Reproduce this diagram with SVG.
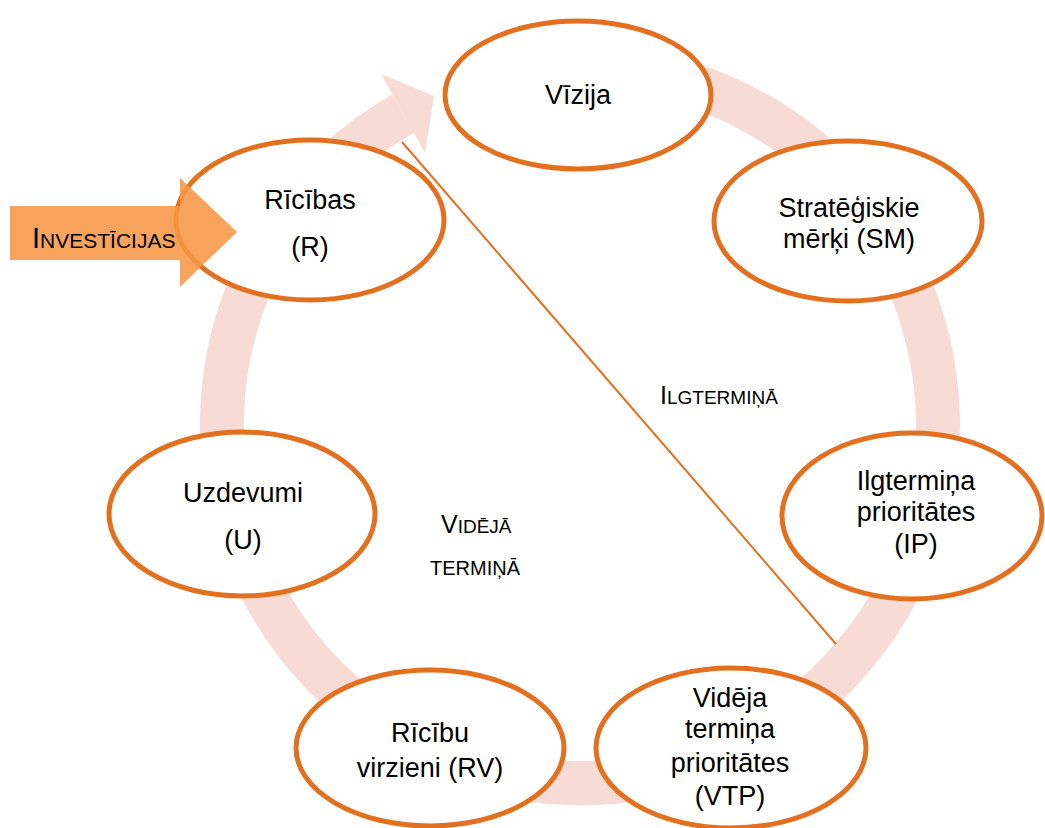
<svg xmlns="http://www.w3.org/2000/svg" width="1045" height="828" viewBox="0 0 1045 828">
<style>
.node ellipse{fill:#ffffff;stroke:#e2701f;stroke-width:5}
.lbl{font-family:"Liberation Sans",Arial,sans-serif;font-size:27px;fill:#000;text-anchor:middle}
.sc{font-family:"Liberation Sans",Arial,sans-serif;fill:#000}
</style>
<rect width="1045" height="828" fill="#ffffff"/>
<g id="cycle">
<path d="M548.8 68.4 A358 358 0 1 1 403.2 113.7" fill="none" stroke="#f9dbd6" stroke-width="44"/>
<polygon points="381,74 434,96 425,153" fill="#f9dbd6"/>
</g>
<g id="connectors">
<line x1="402" y1="142" x2="836" y2="644" stroke="#e2701f" stroke-width="2"/>
</g>
<g id="vizija" class="node"><ellipse cx="578" cy="95" rx="133" ry="74"/><text class="lbl" x="578" y="104">Vīzija</text></g>
<g id="sm" class="node"><ellipse cx="848" cy="221" rx="134" ry="80"/><text class="lbl" x="849" y="217">Stratēģiskie</text><text class="lbl" x="849" y="248">mērķi (SM)</text></g>
<g id="ip" class="node"><ellipse cx="912" cy="516" rx="130" ry="83"/><text class="lbl" x="916" y="490">Ilgtermiņa</text><text class="lbl" x="916" y="521">prioritātes</text><text class="lbl" x="916" y="553">(IP)</text></g>
<g id="vtp" class="node"><ellipse cx="731" cy="748" rx="135" ry="80"/><text class="lbl" x="730" y="707">Vidēja</text><text class="lbl" x="730" y="738">termiņa</text><text class="lbl" x="730" y="772">prioritātes</text><text class="lbl" x="730" y="805">(VTP)</text></g>
<g id="rv" class="node"><ellipse cx="430" cy="748" rx="134" ry="78"/><text class="lbl" x="430" y="742">Rīcību</text><text class="lbl" x="430" y="777">virzieni (RV)</text></g>
<g id="u" class="node"><ellipse cx="242" cy="514" rx="133" ry="82"/><text class="lbl" x="243" y="502">Uzdevumi</text><text class="lbl" x="243" y="549">(U)</text></g>
<g id="r" class="node"><ellipse cx="310" cy="220" rx="134" ry="80"/><text class="lbl" x="310" y="209">Rīcības</text><text class="lbl" x="310" y="256">(R)</text></g>
<g id="investicijas">
<polygon points="10,206 180,206 180,178 237,232 180,287 180,260 10,260" fill="#f79646" fill-opacity="0.88"/>
<text class="sc" x="32" y="248"><tspan font-size="29">I</tspan><tspan font-size="21">NVESTĪCIJAS</tspan></text>
</g>
<g id="labels">
<text class="sc" x="660" y="404"><tspan font-size="25">I</tspan><tspan font-size="19">LGTERMIŅĀ</tspan></text>
<text class="sc" x="441" y="533"><tspan font-size="25">V</tspan><tspan font-size="19">IDĒJĀ</tspan></text>
<text class="sc" x="430" y="575" font-size="20">TERMIŅĀ</text>
</g>
</svg>
